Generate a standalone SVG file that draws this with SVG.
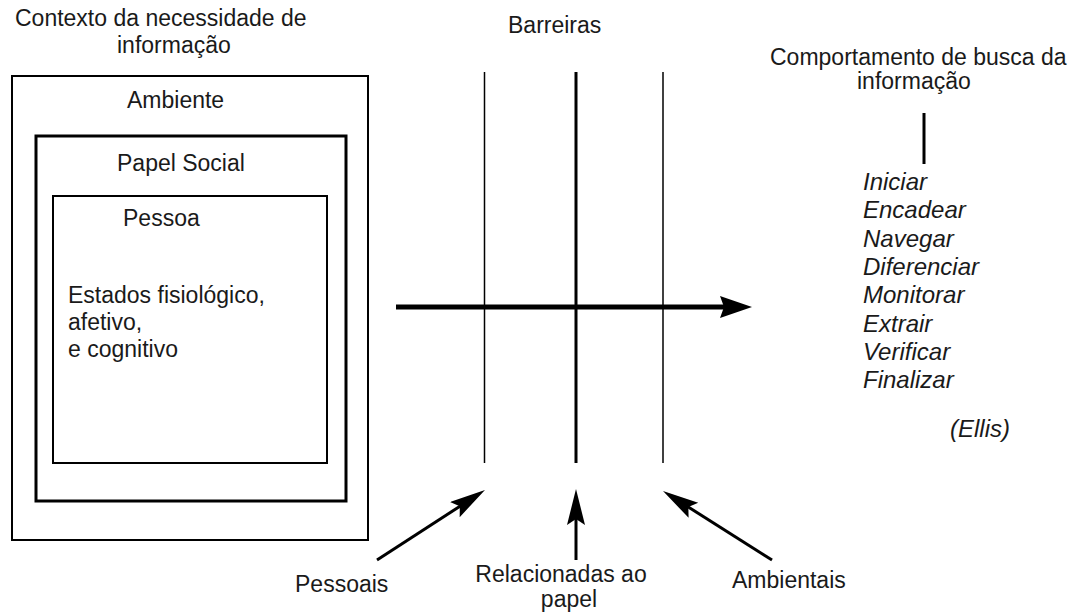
<svg xmlns="http://www.w3.org/2000/svg" width="1077" height="615" viewBox="0 0 1077 615">
<defs>
<style>
text{font-family:"Liberation Sans",Arial,sans-serif;fill:#1a1a1a;font-size:23px}
.it{font-style:italic;font-size:24px}
.box{fill:none;stroke:#000}
.bar{stroke:#000}
.arr{stroke:#000;stroke-width:3;fill:none}
</style>
<marker id="ah" markerUnits="userSpaceOnUse" markerWidth="40" markerHeight="20" refX="16" refY="9" orient="auto">
<path d="M0,0 L36,9 L0,18 L6,9 z" fill="#000"/>
</marker>
<marker id="ahBig" markerUnits="userSpaceOnUse" markerWidth="36" markerHeight="24" refX="12" refY="11" orient="auto">
<path d="M0,0 L32,11 L0,22 L4,11 z" fill="#000"/>
</marker>
</defs>
<rect width="1077" height="615" fill="#fff"/>

<g id="contexto-titulo">
<text x="15" y="26" font-size="23.5">Contexto da necessidade de</text>
<text x="117" y="53" font-size="23.5">informação</text>
</g>

<g id="ambiente">
<rect class="box" x="12" y="76" width="356" height="464" stroke-width="2"/>
<text x="127" y="108">Ambiente</text>
</g>
<g id="papel-social">
<rect class="box" x="36" y="136" width="310" height="365" stroke-width="3"/>
<text x="117" y="171" font-size="24">Papel Social</text>
</g>
<g id="pessoa">
<rect class="box" x="53" y="196" width="274" height="267" stroke-width="2"/>
<text x="123" y="226" font-size="23.5">Pessoa</text>
<text x="68" y="303" font-size="24">Estados fisiológico,</text>
<text x="68" y="330" font-size="24">afetivo,</text>
<text x="68" y="357" font-size="24">e cognitivo</text>
</g>

<g id="barreiras">
<text x="508" y="33" font-size="24">Barreiras</text>
<line class="bar" x1="484.5" y1="72" x2="484.5" y2="463" stroke-width="1.5"/>
<line class="bar" x1="576" y1="72" x2="576" y2="463" stroke-width="3"/>
<line class="bar" x1="663" y1="72" x2="663" y2="463" stroke-width="1.5"/>
</g>

<g id="comportamento">
<text x="770" y="65">Comportamento de busca da</text>
<text x="857" y="89">informação</text>
<line x1="924" y1="113" x2="924" y2="164" stroke="#000" stroke-width="3"/>
<text class="it" x="863" y="190">Iniciar</text>
<text class="it" x="863" y="218">Encadear</text>
<text class="it" x="863" y="247">Navegar</text>
<text class="it" x="863" y="275">Diferenciar</text>
<text class="it" x="863" y="303">Monitorar</text>
<text class="it" x="863" y="332">Extrair</text>
<text class="it" x="863" y="360">Verificar</text>
<text class="it" x="863" y="388">Finalizar</text>
<text class="it" x="950" y="437">(Ellis)</text>
</g>

<g id="pessoais">
<text x="295" y="592" font-size="23.5">Pessoais</text>
</g>
<g id="relacionadas">
<text x="561" y="582" font-size="23.5" text-anchor="middle">Relacionadas ao</text>
<text x="569" y="607" font-size="23.5" text-anchor="middle">papel</text>
</g>
<g id="ambientais">
<text x="732" y="588">Ambientais</text>
</g>

<g id="connectors">
<line x1="396" y1="307" x2="732" y2="307" stroke="#000" stroke-width="5" marker-end="url(#ahBig)"/>
<line class="arr" x1="377" y1="560" x2="468.2" y2="500.9" marker-end="url(#ah)"/>
<line class="arr" x1="576" y1="560" x2="576" y2="509" marker-end="url(#ah)"/>
<line class="arr" x1="772" y1="560" x2="679.9" y2="501.7" marker-end="url(#ah)"/>
</g>
</svg>
